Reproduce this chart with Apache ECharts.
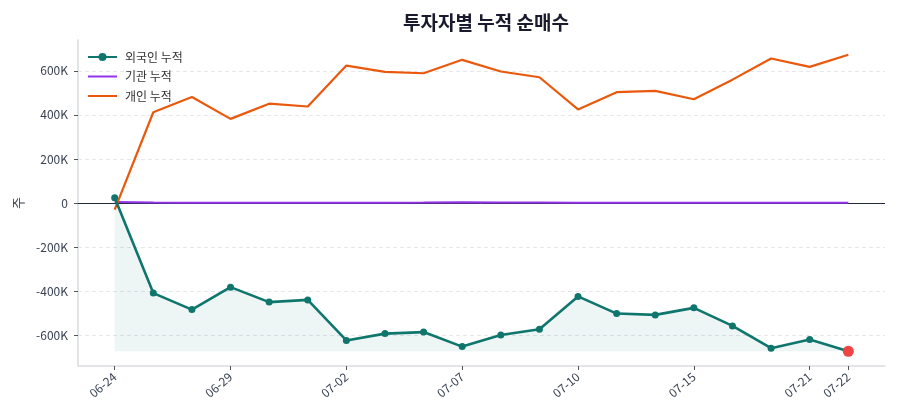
<!DOCTYPE html>
<html>
<head>
<meta charset="utf-8">
<script src="https://cdn.jsdelivr.net/npm/echarts@6/dist/echarts.min.js"></script>
<style>
  html, body { margin: 0; padding: 0; background: #fff; }
  #chart { width: 900px; height: 420px; }
</style>
</head>
<body>
<div id="chart"></div>
<script>
// 거래일 (x축)
const dates = ['06-24', '06-25', '06-26', '06-29', '06-30', '07-01', '07-02', '07-03', '07-06', '07-07',
  '07-08', '07-09', '07-10', '07-13', '07-14', '07-15', '07-16', '07-17', '07-21', '07-22']
const dateTicks = [0, 3, 6, 9, 12, 15, 18, 19]

// 누적 순매수 (주)
const foreignCum = [24000, -409000, -484000, -382000, -450000, -440000, -624000, -593000, -586000, -652000,
  -599000, -573000, -424000, -502000, -508000, -476000, -558000, -659000, -620000, -673000]
const instCum = [5000, 2000, 1500, 1000, 1000, 1000, 1000, 1500, 2000, 3000,
  2500, 2000, 1000, 1000, 1000, 1000, 1000, 1000, 1000, 1000]
const indivCum = [-30000, 412000, 481000, 382000, 451000, 438000, 624000, 595000, 589000, 650000,
  597000, 571000, 425000, 503000, 509000, 471000, 560000, 656000, 618000, 673000]

const yTicks = [-600000, -400000, -200000, 0, 200000, 400000, 600000]

const font = "'Noto Sans CJK KR', 'Noto Sans', sans-serif"
const fmtK = v => (v === 0 ? '0' : (v / 1000) + 'K')

const foreignMin = Math.min(...foreignCum)
const lastIdx = foreignCum.length - 1

const chart = echarts.init(document.getElementById('chart'), null, { renderer: 'canvas' })

chart.setOption({
  animation: false,
  textStyle: { fontFamily: font },
  title: {
    text: '투자자별 누적 순매수',
    left: 481,
    top: 8,
    textAlign: 'center',
    textStyle: { fontSize: 19, fontWeight: 'bold', color: '#1a1a2e', fontFamily: font }
  },
  legend: {
    orient: 'vertical',
    left: 82,
    top: 46,
    itemWidth: 29,
    itemHeight: 10,
    itemGap: 7.5,
    data: [
      { name: '외국인 누적' },
      { name: '기관 누적', itemStyle: { opacity: 0 } },
      { name: '개인 누적', itemStyle: { opacity: 0 } }
    ],
    textStyle: { fontSize: 12, color: '#333', fontFamily: font, padding: [0, 0, 0, 3] }
  },
  grid: { left: 78, right: 15, top: 40, bottom: 54 },
  xAxis: {
    type: 'value',
    min: -0.95,
    max: 19.95,
    splitLine: { show: false },
    axisLine: { onZero: false, lineStyle: { color: '#d9dce1', width: 1.5 } },
    axisTick: { customValues: dateTicks, length: 4, lineStyle: { color: '#555' } },
    axisLabel: {
      customValues: dateTicks,
      formatter: v => dates[v],
      rotate: 40,
      fontSize: 12,
      color: '#374151',
      margin: 9
    }
  },
  yAxis: {
    type: 'value',
    min: -740000,
    max: 740000,
    name: '주',
    nameLocation: 'middle',
    nameGap: 53,
    nameTextStyle: { fontSize: 13, color: '#374151' },
    splitLine: { show: true, lineStyle: { color: '#e5e7eb', type: [4, 3], width: 1 } },
    axisLine: { show: true, onZero: false, lineStyle: { color: '#d9dce1', width: 1.5 } },
    axisTick: { show: true, customValues: yTicks, length: 4, lineStyle: { color: '#555' } },
    axisLabel: { customValues: yTicks, formatter: fmtK, fontSize: 12, color: '#374151', margin: 10 }
  },
  series: [
    {
      name: '외국인 누적',
      type: 'line',
      z: 4,
      data: foreignCum.map((v, i) => i === lastIdx
        ? { value: [i, v], symbolSize: 11, itemStyle: { color: '#ef4444' } }
        : [i, v]),
      symbol: 'circle',
      symbolSize: 7,
      showSymbol: true,
      lineStyle: { color: '#0f766e', width: 2.6 },
      itemStyle: { color: '#0f766e' },
      areaStyle: { origin: foreignMin, color: 'rgba(15,118,110,0.1)' },
      emphasis: { disabled: true }
    },
    {
      name: '기관 누적',
      type: 'line',
      z: 3,
      data: instCum.map((v, i) => [i, v]),
      symbol: 'none',
      lineStyle: { color: '#9333ea', width: 2 },
      itemStyle: { color: '#9333ea' },
      emphasis: { disabled: true },
      markLine: {
        silent: true,
        symbol: 'none',
        label: { show: false },
        z: 1,
        data: [{ yAxis: 0, lineStyle: { color: '#1f2937', type: 'solid', width: 1 } }]
      }
    },
    {
      name: '개인 누적',
      type: 'line',
      z: 3,
      data: indivCum.map((v, i) => [i, v]),
      symbol: 'none',
      lineStyle: { color: '#ea580c', width: 2.2 },
      itemStyle: { color: '#ea580c' },
      emphasis: { disabled: true }
    }
  ]
})
</script>
</body>
</html>
